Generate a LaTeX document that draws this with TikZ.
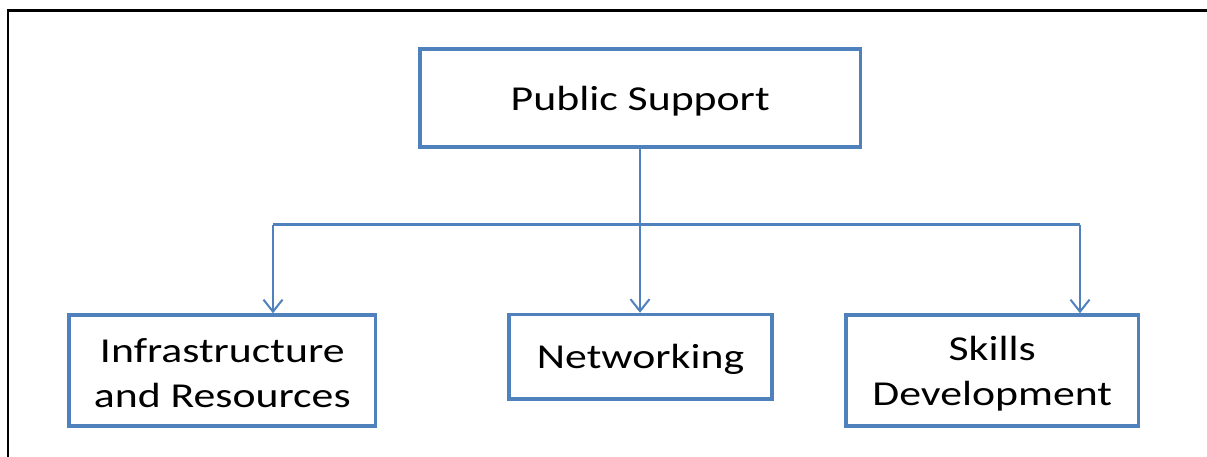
\documentclass[tikz,border=0pt]{standalone}
\usepackage{fontspec}
\setmainfont{Carlito}[FakeStretch=1.25]
\usetikzlibrary{arrows.meta}
\definecolor{boxblue}{RGB}{79,129,189}
\newcommand{\dnline}[1]{\raisebox{-3pt}[\height][\depth]{#1}}
\tikzset{
  box/.style={draw=boxblue, line width=3.5pt, rectangle, inner sep=0pt, align=center,
    font=\fontsize{35}{45}\selectfont, text=black},
  conn/.style={draw=boxblue, line width=2pt},
  arr/.style={conn, -{Straight Barb[length=12pt,width=19pt,line width=2pt]}},
}
\begin{document}
\begin{tikzpicture}[x=1pt,y=-1pt]
\useasboundingbox (0,0) rectangle (1207,457);
\draw[line width=2.5pt] (8,460) -- (8,10.5) -- (1210,10.5);
\node[box, minimum width=440.5pt, minimum height=98pt] (top) at (640.25,98) {\dnline{Public Support}};
\node[box, minimum width=306.5pt, minimum height=111pt] (left) at (222.25,370.5) {\dnline{Infrastructure}\\\dnline{and Resources}};
\node[box, minimum width=263pt, minimum height=84.5pt] (mid) at (640.5,356.75) {\dnline{Networking}};
\node[box, minimum width=292.5pt, minimum height=111pt] (right) at (992.25,370.5) {\dnline{Skills}\\\dnline{Development}};
\coordinate (j) at (640,224.5);
\coordinate (la) at (273,224.5);
\coordinate (ra) at (1080,224.5);
\draw[conn] (top.south -| j) -- (j);
\draw[conn] (la) -- (ra);
\draw[arr] (la) -- (la |- left.north);
\draw[arr] (j) -- (j |- mid.north);
\draw[arr] (ra) -- (ra |- right.north);
\end{tikzpicture}
\end{document}
